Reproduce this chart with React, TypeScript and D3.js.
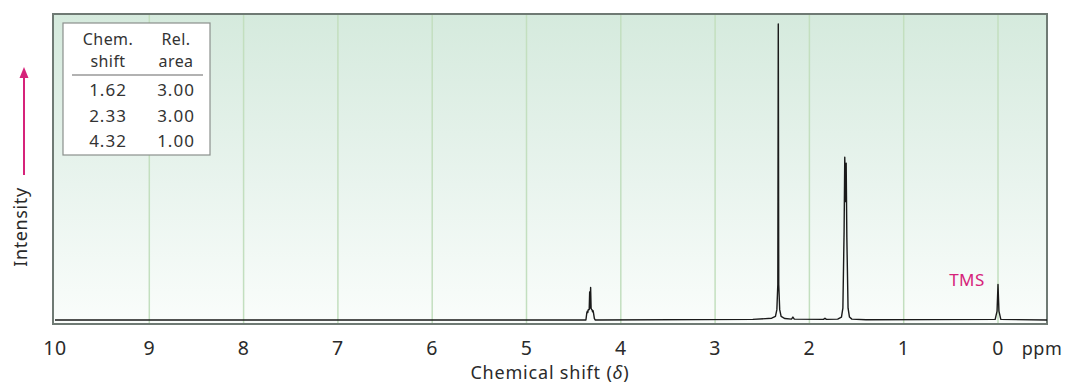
import React from "react";
import * as d3 from "d3";

// Axis ticks (ppm)
const xTicks = [10, 9, 8, 7, 6, 5, 4, 3, 2, 1, 0];

// Integration table
const tableShifts = ["1.62", "2.33", "4.32"];
const tableAreas = ["3.00", "3.00", "1.00"];

// Spectrum trace points: [ppm, relative intensity]
const spectrumPpm = [
  10.0, 4.37, 4.36, 4.355, 4.35, 4.345, 4.335, 4.33, 4.325, 4.32, 4.315, 4.31, 4.305, 4.30, 4.295, 4.29, 4.28, 4.27,
  2.60, 2.40, 2.36, 2.345, 2.335, 2.33, 2.325, 2.315, 2.30, 2.26,
  2.19, 2.175, 2.16, 1.85, 1.835, 1.82,
  1.70, 1.66, 1.645, 1.632, 1.625, 1.617, 1.61, 1.603, 1.59, 1.575, 1.55, 1.40,
  0.03, 0.01, 0.0, -0.01, -0.03, -0.52,
];
const spectrumInt = [
  0, 0, 2.5, 3.0, 2.5, 3.5, 3.5, 9.5, 4, 11, 4, 3.5, 3.5, 2.8, 3.2, 2.5, 0.5, 0,
  0.2, 0.6, 1.2, 3.5, 12, 100, 12, 3.5, 1.2, 0.5,
  0.3, 1.0, 0.3, 0.2, 0.6, 0.2,
  0.3, 1.0, 4, 30, 55, 40, 53, 28, 4, 1.0, 0.3, 0.1,
  0.2, 3, 12, 3, 0.2, 0,
];

const W = 1072;
const H = 384;
const frame = { left: 53, top: 14, right: 1047, bottom: 324 };
const magenta = "#d6237a";
const font = "'Noto Sans', 'Open Sans', sans-serif";

export default function App() {
  const x = d3.scaleLinear().domain([10, 0]).range([55, 998]);
  const y = d3.scaleLinear().domain([0, 100]).range([320, 24]);

  const pts: [number, number][] = spectrumPpm.map((p, i) => [p, spectrumInt[i]]);
  const line = d3
    .line<[number, number]>()
    .x((d) => x(d[0]))
    .y((d) => y(d[1]))
    .curve(d3.curveLinear);

  const tableRowY = [90, 116, 141];

  return (
    <svg
      width={W}
      height={H}
      style={{ position: "absolute", left: 0, top: 0, display: "block" }}
      fontFamily={font}
    >
      <defs>
        <linearGradient id="bg" x1="0" y1="0" x2="0" y2="1">
          <stop offset="0%" stopColor="#d5eadd" />
          <stop offset="55%" stopColor="#e9f4ee" />
          <stop offset="100%" stopColor="#fafdfb" />
        </linearGradient>
      </defs>
      <rect x={0} y={0} width={W} height={H} fill="#ffffff" />
      <rect
        x={frame.left}
        y={frame.top}
        width={frame.right - frame.left}
        height={frame.bottom - frame.top}
        fill="url(#bg)"
      />
      {/* gridlines */}
      {xTicks
        .filter((t) => t !== 10)
        .map((t) => (
          <line
            key={"g" + t}
            x1={x(t)}
            x2={x(t)}
            y1={frame.top}
            y2={frame.bottom}
            stroke="#c3dfbf"
            strokeWidth={1.5}
          />
        ))}
      {/* frame */}
      <rect
        x={frame.left}
        y={frame.top}
        width={frame.right - frame.left}
        height={frame.bottom - frame.top}
        fill="none"
        stroke="#6f7a74"
        strokeWidth={2}
      />
      {/* spectrum */}
      <path
        d={line(pts) || ""}
        fill="none"
        stroke="#1a1a1a"
        strokeWidth={1.4}
        strokeLinejoin="round"
      />
      {/* table */}
      <rect x={63} y={23} width={147} height={132} fill="#ffffff" stroke="#8a8f8c" strokeWidth={1.2} />
      <g fontSize={16} fill="#333" textAnchor="middle" letterSpacing={0.4}>
        <text x={108} y={45}>Chem.</text>
        <text x={108} y={67}>shift</text>
        <text x={176} y={45}>Rel.</text>
        <text x={176} y={67}>area</text>
      </g>
      <line x1={72} x2={203} y1={75} y2={75} stroke="#666" strokeWidth={1.2} />
      <g fontSize={17} fill="#333" textAnchor="middle" letterSpacing={1}>
        {tableShifts.map((s, i) => (
          <text key={"s" + i} x={108} y={tableRowY[i] + 6}>
            {s}
          </text>
        ))}
        {tableAreas.map((a, i) => (
          <text key={"a" + i} x={176} y={tableRowY[i] + 6}>
            {a}
          </text>
        ))}
      </g>
      {/* TMS label */}
      <text x={967} y={286} fontSize={17} fill={magenta} textAnchor="middle" letterSpacing={0.5}>
        TMS
      </text>
      {/* x tick labels */}
      <g fontSize={19.5} fill="#2a2a2a" textAnchor="middle" letterSpacing={0.5}>
        {xTicks.map((t) => (
          <text key={"t" + t} x={x(t)} y={355}>
            {t}
          </text>
        ))}
      </g>
      <text x={1042} y={355} fontSize={18} fill="#2a2a2a" textAnchor="middle" letterSpacing={0.5}>
        ppm
      </text>
      <text x={550} y={379} fontSize={18} fill="#2a2a2a" textAnchor="middle" letterSpacing={0.8}>
        Chemical shift (<tspan fontStyle="italic">δ</tspan>)
      </text>
      {/* y axis label with arrow */}
      <text
        transform="translate(27,227) rotate(-90)"
        fontSize={18}
        fill="#2a2a2a"
        textAnchor="middle"
        letterSpacing={0.6}
      >
        Intensity
      </text>
      <line x1={24} x2={24} y1={175} y2={76} stroke={magenta} strokeWidth={2} />
      <path d="M24,67 L19.5,78 L28.5,78 Z" fill={magenta} />
    </svg>
  );
}
